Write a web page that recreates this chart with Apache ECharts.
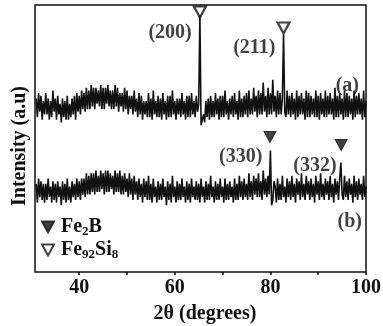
<!DOCTYPE html>
<html>
<head>
<meta charset="utf-8">
<script src="https://cdn.jsdelivr.net/npm/echarts@6/dist/echarts.min.js"></script>
<style>
html,body{margin:0;padding:0;background:#fff;}
#c{width:383px;height:326px;}
</style>
</head>
<body>
<div id="c"></div>
<script>
// XRD scan grid (instrument step)
const scanStart = 31;
const scanStep = 0.25;

// Trace (a): intensity, one row of 4 steps per degree, 31 .. 100
const traceA = [
  65,58,67,60, 66,57,64,59, 67,59,65,57, 64,58,68,60, 65,57,66,59,
  63,56,65,58, 64,57,66,57, 63,58,65,59, 66,57,67,60, 66,59,68,61,
  67,60,69,61, 68,61,70,62, 69,61,69,63, 68,62,70,61, 69,61,69,63,
  70,62,68,61, 68,61,70,62, 69,60,67,62, 67,60,69,61, 68,59,66,61,
  66,59,68,60, 65,58,67,59, 66,57,64,59, 64,58,67,58, 65,57,68,59,
  64,58,66,58, 65,57,67,59, 64,57,66,58, 66,58,68,59, 64,57,65,59,
  65,58,67,59, 64,57,66,58, 66,58,67,59, 64,58,66,60, 63,96,55,57,
  59,56,64,58, 65,57,66,58, 64,58,67,59, 65,57,66,58, 66,58,68,59,
  64,57,65,59, 66,58,67,59, 64,57,68,58, 65,58,66,59, 67,58,68,59,
  65,59,69,60, 66,58,68,59, 67,59,71,60, 66,58,69,59, 67,59,72,60,
  66,58,68,59, 67,59,65,89, 60,58,68,59, 66,58,67,59, 65,57,68,58,
  66,59,67,59, 65,57,68,58, 67,58,66,59, 65,58,68,58, 66,57,67,59,
  65,58,68,58, 66,59,67,59, 65,57,69,58, 66,58,67,59, 65,57,68,58,
  67,58,66,59, 65,57,68,58, 66,59,67,59, 65,57,68,58, 64
];

// Trace (b)
const traceB = [
  33,26,35,28, 34,27,33,26, 33,27,35,28, 32,26,34,27, 33,26,34,28,
  32,25,34,27, 33,26,35,27, 32,26,34,28, 33,27,35,28, 34,27,35,29,
  35,28,37,29, 36,29,37,30, 37,29,38,30, 36,30,38,31, 37,29,38,30,
  38,30,37,31, 36,29,38,30, 37,30,38,29, 36,29,37,30, 35,28,37,29,
  35,27,36,29, 34,27,35,28, 33,26,35,28, 34,27,36,27, 33,26,35,28,
  32,26,34,27, 33,27,35,28, 32,25,34,27, 33,26,36,28, 32,26,34,27,
  33,27,35,28, 32,26,34,27, 33,26,35,28, 32,27,34,27, 33,26,35,28,
  32,26,34,27, 33,27,36,28, 32,26,34,27, 33,27,35,28, 32,26,35,27,
  33,27,34,28, 32,26,35,27, 33,27,36,28, 34,27,35,28, 33,27,37,28,
  34,27,36,29, 35,28,37,28, 34,27,38,29, 35,28,36,29, 45.5,25,27,34,
  32,26,35,27, 33,27,36,28, 32,26,35,28, 34,27,36,28, 33,26,35,29,
  34,27,37,28, 33,27,36,29, 34,27,35,28, 33,26,36,29, 34,27,37,28,
  33,27,35,29, 34,27,36,28, 33,26,35,29, 34,27,35,41, 29,27,36,28,
  34,27,35,29, 33,26,36,28, 34,27,35,29, 33,27,36,28, 32
];

// Peak markers [2theta, intensity, hkl]
const fe2BPeaks = [[79.9, 50.6, '(330)'], [94.8, 47.6, '(332)']];
const fe92Si8Peaks = [[65.25, 97.4, '(200)'], [82.75, 91.4, '(211)']];

// Trace names [2theta, intensity, text]
const traceNames = [[96.1, 69.7, '(a)'], [96.6, 18.8, '(b)']];

const xTicks = [40, 50, 60, 70, 80, 90, 100];
const xTickLabels = [40, 60, 80, 100];

const FONT = 'Liberation Serif';
const toXY = arr => arr.map((v, i) => [scanStart + i * scanStep, v]);

const downTri = 'path://M0,0 L10,0 L5,9 Z';
const peakLabelOffsets = {'(200)': [1, 21], '(211)': [1, 20], '(330)': [1, 20], '(332)': [4, 21]};

const chart = echarts.init(document.getElementById('c'), null, {renderer: 'canvas'});
chart.setOption({
  animation: false,
  backgroundColor: '#fff',
  textStyle: {fontFamily: FONT, color: '#111'},
  grid: {left: 35, right: 17, top: 5, bottom: 54, show: true, borderColor: '#111', borderWidth: 1.5,
         containLabel: false, outerBoundsMode: 'none'},
  legend: {
    orient: 'vertical',
    left: 36, top: 212,
    itemWidth: 12, itemHeight: 11, itemGap: 2,
    data: ['Fe2B', 'Fe92Si8'],
    textStyle: {
      fontFamily: FONT, fontSize: 20, fontWeight: 'bold', color: '#111', padding: [0, 0, 0, 2],
      rich: {
        n: {fontFamily: FONT, fontSize: 20, fontWeight: 'bold', color: '#111'},
        s: {fontFamily: FONT, fontSize: 13, fontWeight: 'bold', color: '#111', padding: [9, 0, 0, 0]}
      }
    },
    formatter: name => name === 'Fe2B' ? '{n|Fe}{s|2}{n|B}' : '{n|Fe}{s|92}{n|Si}{s|8}'
  },
  xAxis: {
    type: 'value', min: 30.75, max: 100,
    name: '2θ (degrees)', nameLocation: 'middle', nameGap: 32,
    nameTextStyle: {fontFamily: FONT, fontSize: 20, fontWeight: 'bold', color: '#111', padding: [0, 0, 0, 9]},
    axisLine: {show: false},
    axisTick: {show: true, inside: false, length: 3, customValues: xTicks, lineStyle: {color: '#111', width: 1.5}},
    axisLabel: {customValues: xTickLabels, margin: 6, fontFamily: FONT, fontSize: 20, fontWeight: 'bold', color: '#111'},
    splitLine: {show: false}
  },
  yAxis: {
    type: 'value', min: 0, max: 100,
    name: 'Intensity (a.u)', nameLocation: 'middle', nameGap: 5,
    nameTextStyle: {fontFamily: FONT, fontSize: 20, fontWeight: 'bold', color: '#111', padding: [0, 15, 0, 0]},
    axisLine: {show: false}, axisTick: {show: false}, axisLabel: {show: false}, splitLine: {show: false}
  },
  series: [
    {type: 'line', name: 'a', data: toXY(traceA), showSymbol: false, silent: true,
     lineStyle: {color: '#111', width: 1.6}},
    {type: 'line', name: 'b', data: toXY(traceB), showSymbol: false, silent: true,
     lineStyle: {color: '#111', width: 1.6}},
    {type: 'scatter', name: 'Fe2B', symbol: downTri, symbolSize: [12, 11],
     itemStyle: {color: '#111', borderColor: '#111', borderWidth: 1},
     data: fe2BPeaks.map(p => ({value: [p[0], p[1]], label: {offset: peakLabelOffsets[p[2]]}})),
     label: {show: true, position: 'left', distance: 2, fontFamily: FONT, fontSize: 20, fontWeight: 'bold', color: '#111',
       formatter: p => fe2BPeaks[p.dataIndex][2]}},
    {type: 'scatter', name: 'Fe92Si8', symbol: downTri, symbolSize: [12, 11],
     itemStyle: {color: '#fff', borderColor: '#111', borderWidth: 2.2},
     data: fe92Si8Peaks.map(p => ({value: [p[0], p[1]], label: {offset: peakLabelOffsets[p[2]]}})),
     label: {show: true, position: 'left', distance: 2, fontFamily: FONT, fontSize: 20, fontWeight: 'bold', color: '#111',
       formatter: p => fe92Si8Peaks[p.dataIndex][2]}},
    {type: 'scatter', name: 'names', symbolSize: 0, silent: true,
     data: traceNames.map(t => [t[0], t[1]]),
     label: {show: true, position: 'inside', fontFamily: FONT, fontSize: 20, fontWeight: 'bold', color: '#111',
       formatter: p => traceNames[p.dataIndex][2]}}
  ]
});
</script>
</body>
</html>
